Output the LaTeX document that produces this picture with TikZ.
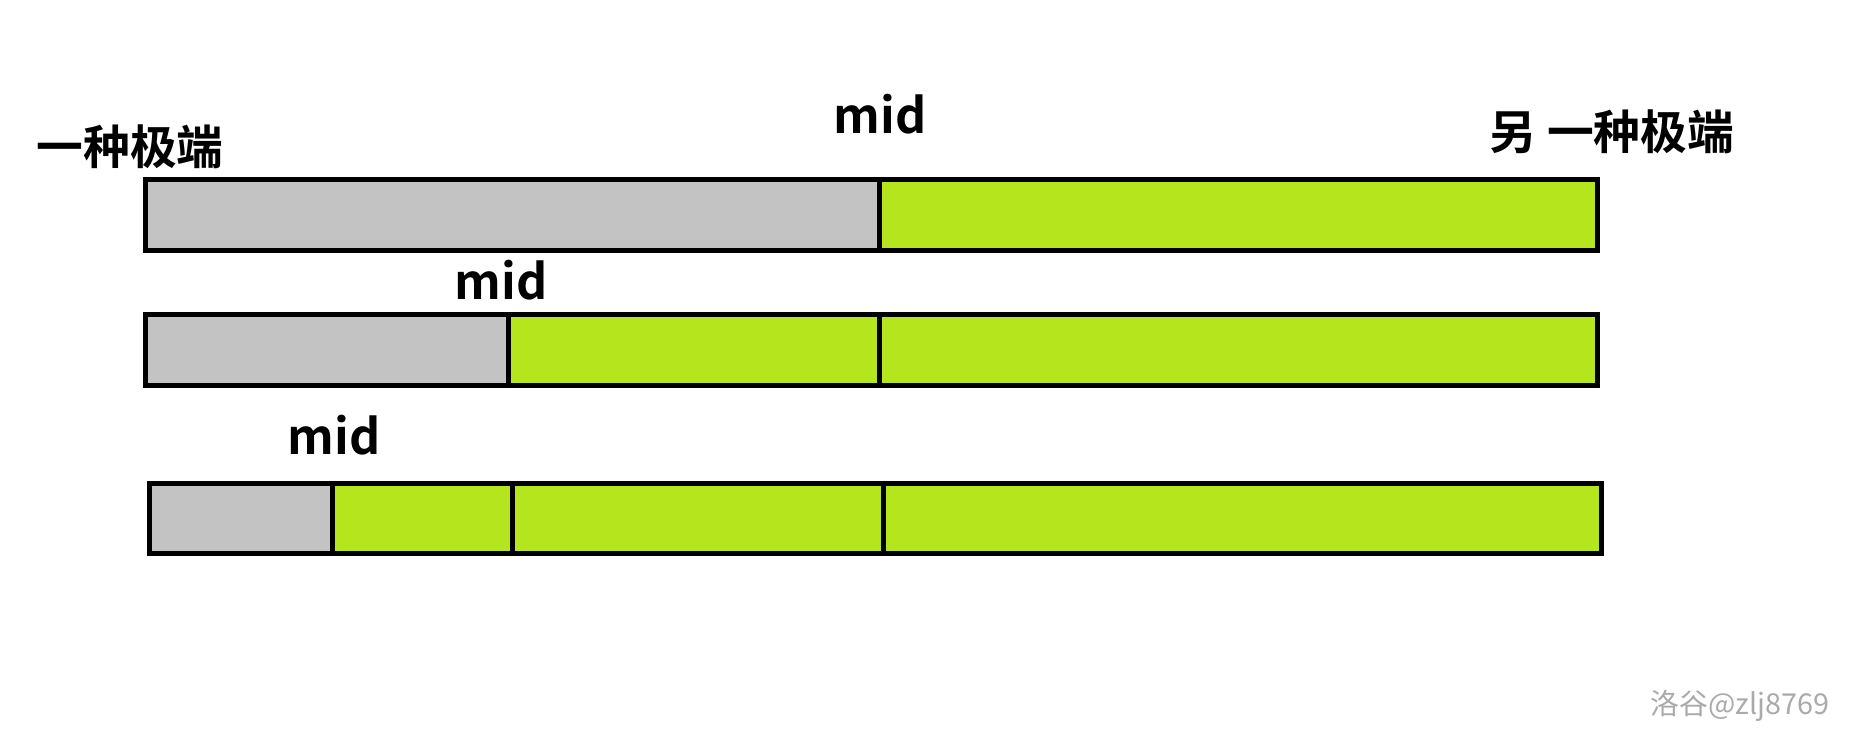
\documentclass[tikz,border=0pt]{standalone}
\usepackage{fontspec}
\usepackage{xcolor}
\usepackage{tikz}
\usetikzlibrary{positioning}
\newfontfamily\cjk{Noto Sans CJK SC}[BoldFont={Noto Sans CJK SC Bold}]
\definecolor{loGrey}{RGB}{195,195,195}
\definecolor{hiGreen}{RGB}{181,230,29}
\definecolor{markGrey}{RGB}{170,170,170}

\begin{document}
\begin{tikzpicture}[x=0.01cm, y=-0.01cm,
    bar/.style={draw=black, line width=1.42pt},
    lo/.style={bar, fill=loGrey},
    hi/.style={bar, fill=hiGreen},
    lbl/.style={font=\cjk\bfseries\fontsize{13.3}{16}\selectfont, inner sep=0pt},
    midlbl/.style={font=\cjk\bfseries\fontsize{13.8}{17}\selectfont, inner sep=0pt, anchor=base}]

    \useasboundingbox (0,0) rectangle (1858,752);

    % row 1
    \draw[lo] (145.5,179.5) rectangle (879,250.5);
    \draw[hi] (879,179.5) rectangle (1597.5,250.5);
    \node[lbl, anchor=base] (endL) at (130,165) {一种极端};
    \node[lbl, anchor=base] (endR) at (1612,150) {另 一种极端};
    \node[midlbl] (midA) at (880,134) {mid};

    % row 2
    \draw[lo] (145.5,314.5) rectangle (508,385.5);
    \draw[hi] (508,314.5) rectangle (879,385.5);
    \draw[hi] (879,314.5) rectangle (1597.5,385.5);
    \node[midlbl] (midB) at (501,300) {mid};

    % row 3
    \draw[lo] (149.5,483.5) rectangle (332,553.5);
    \draw[hi] (332,483.5) rectangle (512,553.5);
    \draw[hi] (512,483.5) rectangle (883,553.5);
    \draw[hi] (883,483.5) rectangle (1601.5,553.5);
    \node[midlbl] (midC) at (334,454) {mid};

    \node[font=\cjk\fontsize{8.2}{10}\selectfont, text=markGrey, inner sep=0pt, anchor=base] (mark) at (1740,714) {洛谷@zlj8769};
\end{tikzpicture}
\end{document}
